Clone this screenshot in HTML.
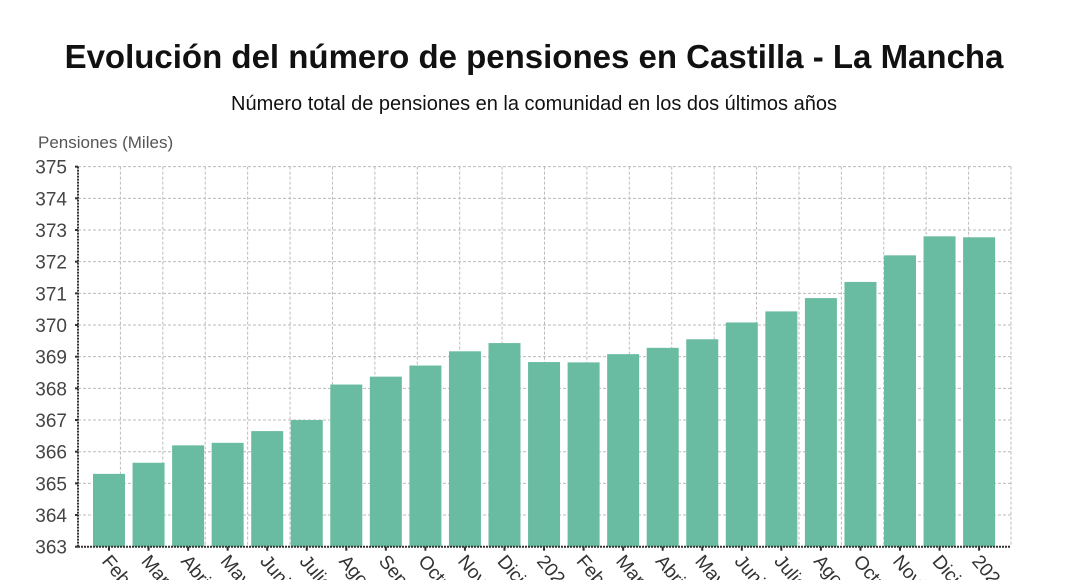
<!DOCTYPE html>
<html><head><meta charset="utf-8"><style>
html,body{margin:0;padding:0;background:#fff;width:1068px;height:580px;overflow:hidden}
svg{display:block;font-family:"Liberation Sans",sans-serif}
</style></head><body>
<svg width="1068" height="580" viewBox="0 0 1068 580">
<defs><clipPath id="cp"><rect x="0" y="0" width="1068" height="580"/></clipPath></defs>
<text x="534" y="68" text-anchor="middle" font-size="33" font-weight="bold" fill="#111">Evolución del número de pensiones en Castilla - La Mancha</text>
<text x="534" y="110" text-anchor="middle" font-size="20" fill="#111">Número total de pensiones en la comunidad en los dos últimos años</text>
<text x="38" y="148" font-size="17" fill="#555">Pensiones (Miles)</text>
<g id="grid" stroke="#bbb" stroke-width="1" stroke-dasharray="3,2"></g>
<g id="bars" fill="#69bca1"></g>
<g id="axes" clip-path="url(#cp)"></g>
</svg>
<script>
const ns="http://www.w3.org/2000/svg";
function el(p,t,a,txt){const e=document.createElementNS(ns,t);for(const k in a)e.setAttribute(k,a[k]);if(txt!==undefined)e.textContent=txt;p.appendChild(e);return e;}
const g=document.getElementById('grid'),b=document.getElementById('bars'),ax=document.getElementById('axes');
const y0=546.7,ppu=31.67,xl=78,xr=1011;
const Y=v=>y0-(v-363)*ppu;
for(let v=364;v<=375;v++)el(g,'line',{x1:xl,x2:xr,y1:Y(v),y2:Y(v)});
for(let k=1;k<=22;k++){const x=xl+k*(xr-xl)/22;el(g,'line',{x1:x,x2:x,y1:Y(375),y2:y0});}
const vals=[365.3,365.65,366.2,366.28,366.65,367.0,368.12,368.37,368.72,369.17,369.43,368.83,368.82,369.08,369.28,369.55,370.08,370.43,370.85,371.36,372.2,372.8,372.77];
const labs=["Febrero","Marzo","Abril","Mayo","Junio","Julio","Agosto","Septiembre","Octubre","Noviembre","Diciembre","2020","Febrero","Marzo","Abril","Mayo","Junio","Julio","Agosto","Octubre","Noviembre","Diciembre","2021"];
vals.forEach((v,i)=>{const c=109+39.55*i;el(b,'rect',{x:c-16,y:Y(v),width:32,height:y0-Y(v)});
el(ax,'line',{x1:c,x2:c,y1:y0,y2:y0+4,stroke:'#333','stroke-width':2});
el(ax,'text',{x:c-8,y:y0+15,'font-size':19,fill:'#333',transform:`rotate(50 ${c-8} ${y0+15})`},labs[i]);});
el(ax,'line',{x1:xl,x2:xl,y1:Y(375),y2:y0,stroke:'#333','stroke-width':2,'stroke-dasharray':'2,1'});
el(ax,'line',{x1:xl,x2:xr,y1:y0,y2:y0,stroke:'#333','stroke-width':2,'stroke-dasharray':'2,1'});
for(let v=363;v<=375;v++){el(ax,'line',{x1:xl-3,x2:xl,y1:Y(v),y2:Y(v),stroke:'#333','stroke-width':2});
el(ax,'text',{x:67,y:Y(v)+7,'text-anchor':'end','font-size':19,fill:'#444'},String(v));}
</script>
</body></html>
